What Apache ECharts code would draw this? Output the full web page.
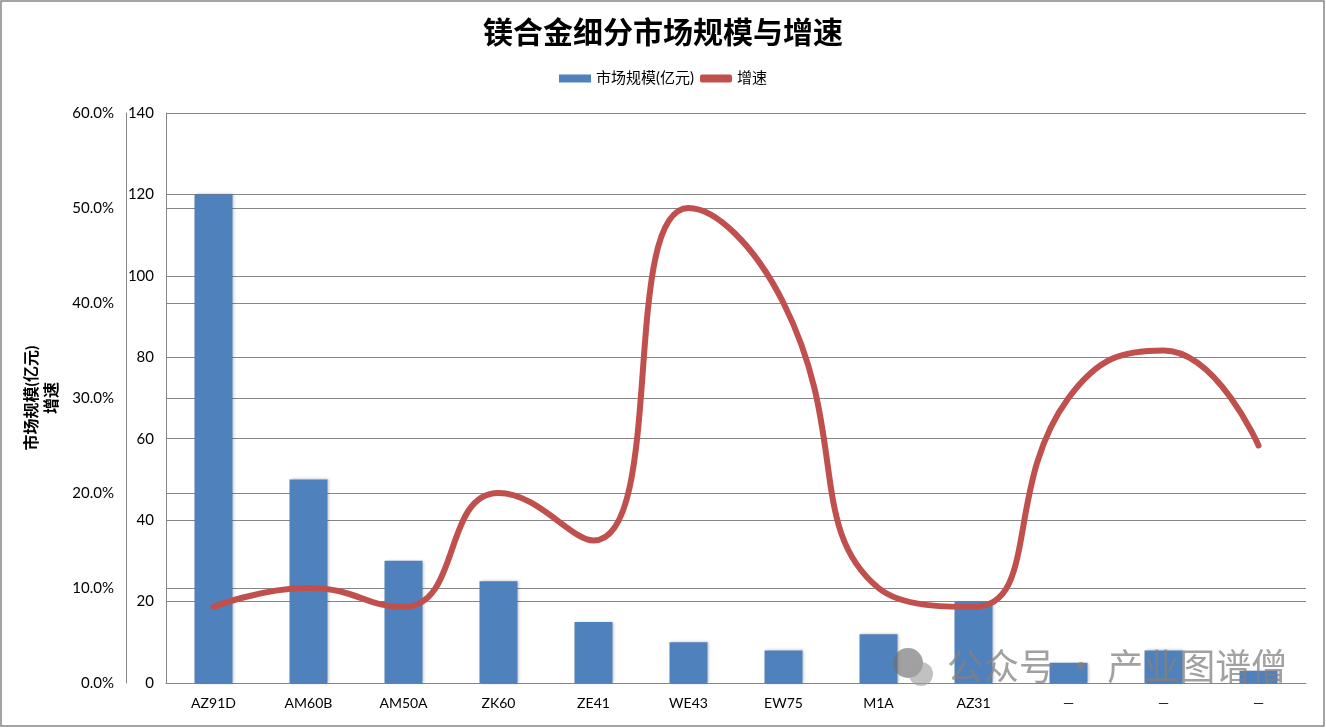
<!DOCTYPE html>
<html>
<head>
<meta charset="UTF-8">
<title>镁合金细分市场规模与增速</title>
<script src="https://cdn.jsdelivr.net/npm/echarts@6/dist/echarts.min.js"></script>
<style>
  html, body { margin: 0; padding: 0; background: #ffffff; }
  #chart { width: 1326px; height: 728px; }
</style>
</head>
<body>
<div id="chart"></div>
<script>
  // 类别
  const categories = ['AZ91D', 'AM60B', 'AM50A', 'ZK60', 'ZE41', 'WE43', 'EW75', 'M1A', 'AZ31', '—', '—', '—'];
  // 市场规模(亿元)
  const marketSize = [120, 50, 30, 25, 15, 10, 8, 12, 20, 5, 8, 3];
  // 增速(%)
  const growthRate = [8, 10, 8, 20, 15, 50, 40, 10, 8, 30, 35, 25];

  const font = 'Lato, "Noto Sans CJK SC", sans-serif';
  const grayLine = '#868686';

  const chart = echarts.init(document.getElementById('chart'));

  chart.setOption({
    animation: false,
    backgroundColor: '#ffffff',
    title: {
      text: '镁合金细分市场规模与增速',
      left: 'center',
      top: 12,
      textStyle: { fontSize: 30, fontWeight: 'bold', color: '#000', fontFamily: '"Noto Sans CJK SC", sans-serif' }
    },
    legend: {
      top: 66,
      left: 'center',
      itemWidth: 32,
      itemHeight: 8,
      itemGap: 6,
      textStyle: { fontSize: 15, color: '#000', fontFamily: font },
      data: [
        { name: '市场规模(亿元)', icon: 'rect' },
        { name: '增速', icon: 'roundRect' }
      ]
    },
    grid: { left: 166, right: 20, top: 113, bottom: 45, containLabel: false },
    xAxis: {
      type: 'category',
      data: categories,
      axisLine: { lineStyle: { color: grayLine } },
      axisTick: { show: false },
      axisLabel: { color: '#000', fontSize: 14, fontFamily: font, margin: 13, interval: 0 }
    },
    yAxis: [
      {
        type: 'value',
        min: 0, max: 140, interval: 20,
        position: 'left',
        axisLine: { show: true, lineStyle: { color: grayLine } },
        axisTick: { show: false },
        splitLine: { lineStyle: { color: grayLine } },
        axisLabel: { color: '#000', fontSize: 15, fontFamily: font, margin: 12 }
      },
      {
        type: 'value',
        min: 0, max: 60, interval: 10,
        position: 'left',
        offset: 40,
        alignTicks: false,
        name: '市场规模(亿元)\n增速',
        nameLocation: 'middle',
        nameRotate: 90,
        nameGap: 62,
        nameTextStyle: { fontSize: 16, fontWeight: 'bold', color: '#000', fontFamily: font, lineHeight: 20 },
        axisLine: { show: true, lineStyle: { color: grayLine } },
        axisTick: { show: false },
        splitLine: { show: true, lineStyle: { color: grayLine } },
        axisLabel: { color: '#000', fontSize: 15, fontFamily: font, margin: 12,
          formatter: v => v.toFixed(1) + '%' }
      }
    ],
    series: [
      {
        name: '市场规模(亿元)',
        type: 'bar',
        data: marketSize,
        barWidth: 38,
        itemStyle: { color: '#4F81BD', shadowColor: 'rgba(0,0,0,0.25)', shadowBlur: 3, shadowOffsetX: 1 }
      },
      {
        name: '增速',
        type: 'line',
        yAxisIndex: 1,
        data: growthRate,
        smooth: 0.5,
        symbol: 'none',
        lineStyle: { color: '#C0504D', width: 6, cap: 'round' },
        itemStyle: { color: '#C0504D' }
      }
    ],
    graphic: [
      {
        type: 'rect',
        shape: { x: 1, y: 1, width: 1323, height: 725 },
        style: { fill: 'none', stroke: grayLine, lineWidth: 1.5 },
        silent: true
      },
      {
        type: 'group',
        left: 893,
        top: 648,
        z: 100,
        silent: true,
        children: [
          { type: 'circle', z: 100, shape: { cx: 17, cy: 17, r: 15 }, style: { fill: 'rgba(110,110,110,0.65)' } },
          { type: 'circle', z: 100, shape: { cx: 30, cy: 28, r: 12 }, style: { fill: 'rgba(160,160,160,0.65)' } },
          {
            type: 'text',
            z: 100,
            x: 56, y: 2,
            style: { text: '公众号 · 产业图谱僧', fontSize: 36, fill: 'rgba(130,130,130,0.75)',
              fontFamily: '"Noto Sans CJK SC", sans-serif' }
          }
        ]
      }
    ]
  });
</script>
</body>
</html>
